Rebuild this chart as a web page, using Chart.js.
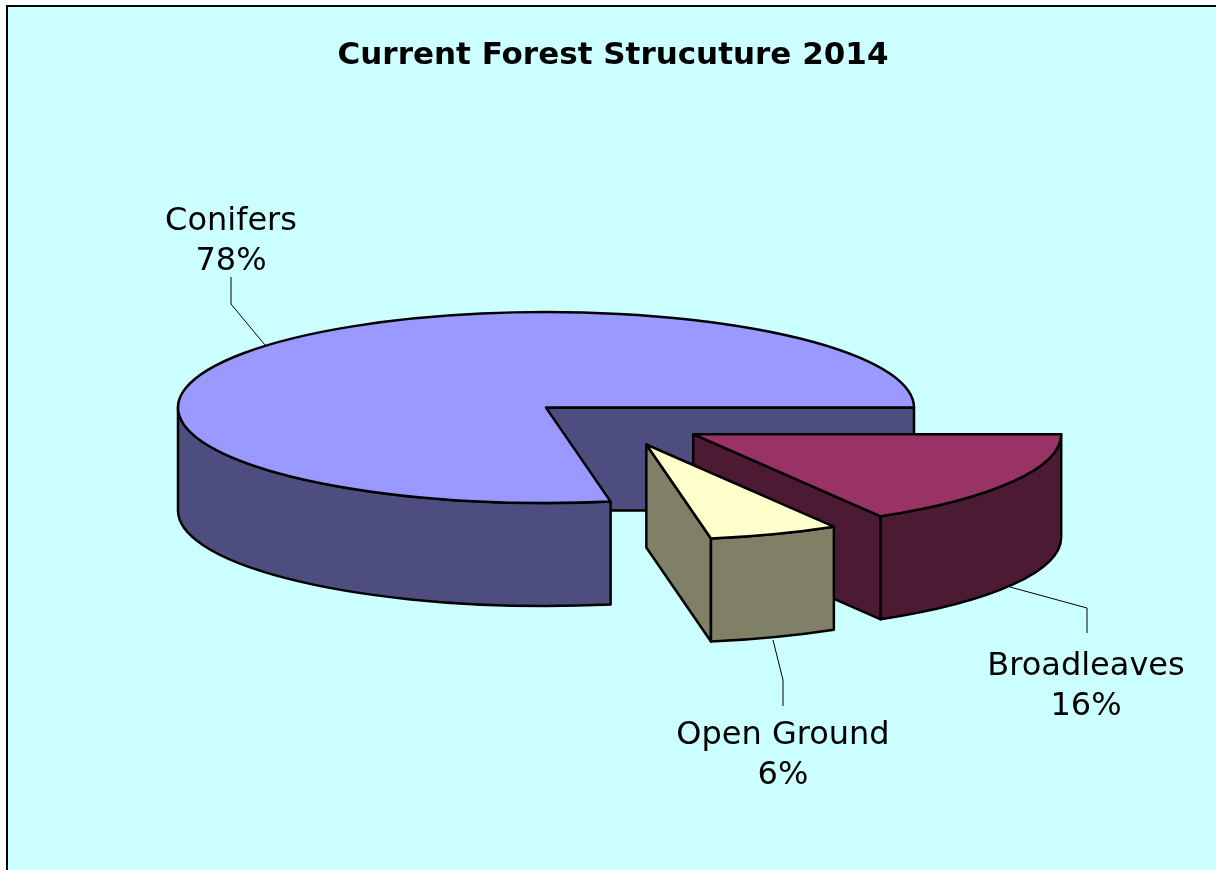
<!DOCTYPE html>
<html>
<head>
<meta charset="utf-8">
<style>
  html, body { margin: 0; padding: 0; background: #fff; }
  canvas { display: block; }
</style>
<script src="https://cdn.jsdelivr.net/npm/chart.js@4"></script>
</head>
<body>
<canvas id="forestchart" width="1216" height="870"></canvas>
<script>
// Chart data (labels on the chart are these, rounded)
var categories = ['Conifers', 'Broadleaves', 'Open Ground'];
var shares = [77.81, 16.49, 5.7];
var topColours = ['#9999FF', '#993366', '#FFFFCC'];
var sideColours = ['#4D4D80', '#4D1A33', '#808066'];

// 3D look: squash the pie into an ellipse and give it a thick side
var squash = 0.2595;
var depth = 103;
var explode = 90;
var nudgeX = 2;
var labelFont = '32px "DejaVu Sans"';

// where the labels and their leader lines go
var labelBoxes = [
    { x: 231, y: 222, line: [[265, 345], [231, 304], [231, 277]] },
    { x: 1086, y: 667, line: [[1010, 587], [1087, 608], [1087, 633]] },
    { x: 783, y: 736, line: [[773, 640], [783, 680], [783, 706]] }
];

function arcShape(arc) {
    var mid = (arc.startAngle + arc.endAngle) / 2;
    var start = arc.startAngle;
    var end = arc.endAngle;
    if (start >= Math.PI * 2 - 1e-6) {
        start -= Math.PI * 2;
        end -= Math.PI * 2;
    }
    return {
        cx: arc.x + nudgeX + Math.cos(mid) * explode,
        cy: arc.y + Math.sin(mid) * explode * squash,
        r: arc.outerRadius,
        start: start,
        end: end
    };
}

function ellipsePath(ctx, s, from, to, down, reverse) {
    ctx.ellipse(s.cx, s.cy + down, s.r, s.r * squash, 0, from, to, reverse);
}

function drawSides(ctx, s, colour) {
    ctx.fillStyle = colour;

    // flat cut faces, only those turned towards the viewer
    [[s.end, Math.cos(s.end) > 0], [s.start, Math.cos(s.start) < 0]].forEach(function (face) {
        if (!face[1]) return;
        var ex = s.cx + Math.cos(face[0]) * s.r;
        var ey = s.cy + Math.sin(face[0]) * s.r * squash;
        ctx.beginPath();
        ctx.moveTo(s.cx, s.cy);
        ctx.lineTo(ex, ey);
        ctx.lineTo(ex, ey + depth);
        ctx.lineTo(s.cx, s.cy + depth);
        ctx.closePath();
        ctx.fill();
        ctx.stroke();
    });

    // curved outer wall, front half of the ellipse only
    var from = Math.max(s.start, 0);
    var to = Math.min(s.end, Math.PI);
    if (to > from) {
        ctx.beginPath();
        ellipsePath(ctx, s, from, to, 0, false);
        ellipsePath(ctx, s, to, from, depth, true);
        ctx.closePath();
        ctx.fill();
        ctx.stroke();
    }
}

// pie controller that draws each slice exploded and squashed, with sides
class Pie3dController extends Chart.PieController {
    draw() {
        var ctx = this.chart.ctx;
        var arcs = this.getMeta().data;

        ctx.save();
        ctx.strokeStyle = '#000';
        ctx.lineWidth = 2.5;
        ctx.lineJoin = 'round';

        arcs.forEach(function (arc, i) {
            drawSides(ctx, arcShape(arc), sideColours[i]);
        });

        arcs.forEach(function (arc) {
            var s = arcShape(arc);
            ctx.save();
            ctx.translate(s.cx, s.cy);
            ctx.scale(1, squash);
            ctx.translate(-arc.x, -arc.y);
            arc.draw(ctx);
            ctx.restore();

            // outline after restoring so the line keeps an even width
            ctx.beginPath();
            ctx.moveTo(s.cx, s.cy);
            ellipsePath(ctx, s, s.start, s.end, 0, false);
            ctx.closePath();
            ctx.stroke();
        });
        ctx.restore();
    }
}
Pie3dController.id = 'pie3d';
Pie3dController.defaults = {};
Pie3dController.overrides = Chart.DoughnutController.overrides;
Chart.register(Pie3dController);

var frameAndLabels = {
    id: 'frameAndLabels',
    beforeDraw: function (chart) {
        var ctx = chart.ctx;
        ctx.save();
        ctx.fillStyle = '#CCFFFF';
        ctx.fillRect(7, 6, chart.width, chart.height);
        ctx.fillStyle = '#000';
        ctx.fillRect(6, 5, chart.width, 2);
        ctx.fillRect(6, 5, 2, chart.height);
        ctx.restore();
    },
    afterDraw: function (chart) {
        var ctx = chart.ctx;
        ctx.save();
        ctx.font = labelFont;
        ctx.fillStyle = '#000';
        ctx.textAlign = 'center';
        ctx.textBaseline = 'middle';
        ctx.strokeStyle = '#000';
        ctx.lineWidth = 1;
        categories.forEach(function (name, i) {
            var box = labelBoxes[i];
            ctx.fillText(name, box.x, box.y);
            ctx.fillText(Math.round(shares[i]) + '%', box.x, box.y + 40);
            ctx.beginPath();
            box.line.forEach(function (pt, n) {
                if (n === 0) ctx.moveTo(pt[0], pt[1]);
                else ctx.lineTo(pt[0], pt[1]);
            });
            ctx.stroke();
        });
        ctx.restore();
    }
};

var ctx = document.getElementById('forestchart').getContext('2d');

var forestchart = new Chart(ctx, {
    type: 'pie3d',
    data: {
        labels: categories,
        datasets: [{
            data: shares,
            backgroundColor: topColours,
            borderWidth: 0,
            clip: false
        }]
    },
    options: {
        responsive: false,
        animation: false,
        events: [],
        // conifers start where the other two slices end, those start at 3 o'clock
        rotation: 90 + (shares[1] + shares[2]) * 3.6,
        radius: 368,
        layout: {
            padding: { left: 10, bottom: 99 }
        },
        plugins: {
            legend: { display: false },
            tooltip: { enabled: false },
            title: {
                display: true,
                text: 'Current Forest Strucuture 2014',
                color: '#000',
                font: { family: '"DejaVu Sans"', size: 31, weight: 'bold' },
                padding: { top: 37, bottom: 0 }
            }
        }
    },
    plugins: [frameAndLabels]
});
</script>
</body>
</html>
